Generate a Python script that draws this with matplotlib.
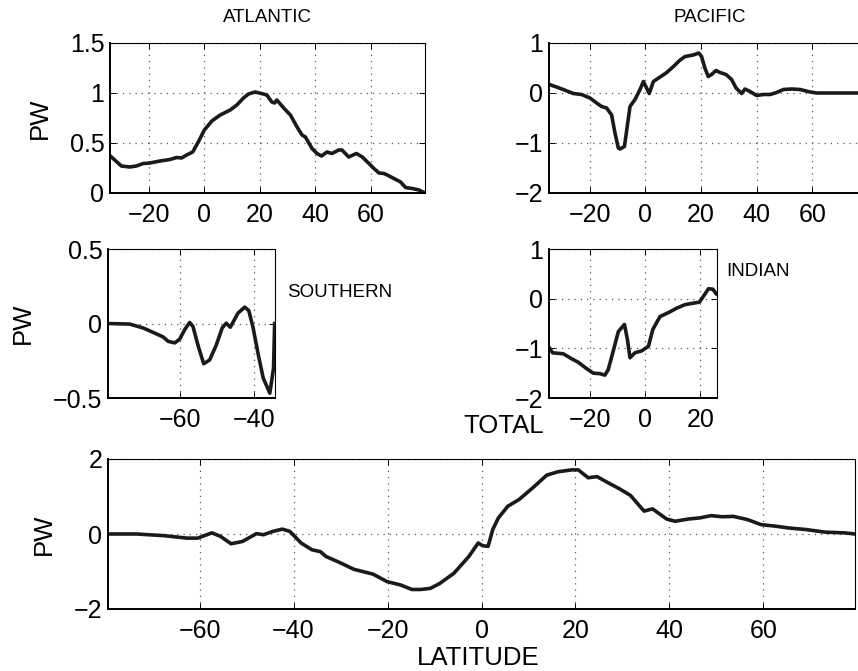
import numpy as np
import matplotlib
matplotlib.use('Agg')
import matplotlib.pyplot as plt

plt.rcParams['font.family'] = ['Liberation Sans', 'DejaVu Sans']

# heat transport (PW) against latitude
atl_lat = [-34.2, -32.3, -29.9, -26.9, -24.5, -22, -19.6, -16, -12.4, -10, -8.2,
           -6.4, -4.2, -2.2, 0, 2.7, 5.7, 9.3, 11.7, 14.1, 15.9, 18.3, 21.3, 22.5,
           24.3, 25.3, 26.1, 28.6, 31, 33.4, 35.2, 36.4, 38.8, 40.6, 42.2, 44.2,
           46, 48.4, 49.6, 52, 54.8, 56.9, 59.3, 61.1, 62.9, 64.7, 65.9, 68.3,
           70.7, 72.5, 74.9, 77.3, 79.5]
atl_pw = [0.378, 0.33, 0.27, 0.26, 0.27, 0.295, 0.30, 0.32, 0.335, 0.355, 0.35,
          0.38, 0.41, 0.51, 0.63, 0.72, 0.78, 0.83, 0.88, 0.95, 0.99, 1.01, 0.99,
          0.98, 0.91, 0.90, 0.93, 0.85, 0.78, 0.66, 0.58, 0.56, 0.445, 0.395,
          0.37, 0.41, 0.395, 0.43, 0.43, 0.36, 0.395, 0.36, 0.295, 0.245, 0.20,
          0.195, 0.18, 0.145, 0.11, 0.055, 0.045, 0.03, 0.0]

pac_lat = [-34.5, -31.9, -29.5, -25.9, -22.9, -19.9, -17.5, -15.7, -13.9, -12.1,
           -10.9, -9.7, -9.1, -7.5, -6.5, -5.5, -3.7, -1.9, -0.7, 0.2, 1.4, 2.9,
           5.3, 7.7, 10.1, 12.5, 14.3, 17.2, 19.2, 20.2, 21.4, 22.6, 23.8, 25.4,
           26.8, 29.0, 31.0, 32.6, 34.6, 35.8, 37.6, 40, 42.4, 44.8, 47.2, 49.6,
           52.6, 55.6, 59.2, 61.6, 66.3, 75.9, 79.5]
pac_pw = [0.17, 0.12, 0.07, -0.01, -0.03, -0.10, -0.20, -0.27, -0.30, -0.44,
          -0.80, -1.10, -1.12, -1.07, -0.67, -0.27, -0.13, 0.07, 0.23, 0.13,
          -0.01, 0.23, 0.32, 0.41, 0.53, 0.66, 0.73, 0.76, 0.80, 0.73, 0.50,
          0.33, 0.37, 0.45, 0.41, 0.37, 0.27, 0.10, -0.01, 0.08, 0.03, -0.05,
          -0.03, -0.03, 0.01, 0.07, 0.08, 0.07, 0.02, 0.0, 0.0, 0.0, 0.0]

sou_lat = [-79.5, -73.6, -70, -66.8, -64.6, -63.2, -61.4, -60.1, -58.7, -57.4,
           -56.5, -55.1, -53.6, -52.0, -50.2, -48.6, -47.5, -46.4, -44.3, -42.5,
           -41.4, -40.3, -38.9, -37.5, -35.7, -34.7, -34.4]
sou_pw = [0.0, -0.004, -0.03, -0.065, -0.09, -0.12, -0.13, -0.105, -0.04, 0.007,
          -0.02, -0.15, -0.27, -0.245, -0.145, -0.03, 0.002, -0.025, 0.07, 0.11,
          0.087, -0.02, -0.2, -0.365, -0.468, -0.3, 0.0]

ind_lat = [-34.9, -33.7, -29.8, -26.8, -24.4, -21.3, -18.9, -16.5, -14.7, -13.5,
           -11.9, -9.8, -7.6, -6.5, -5.6, -3.8, -1.3, 1.1, 2.7, 5.3, 8.4, 11.4,
           14.4, 17.5, 19.6, 21.1, 22.9, 24.5, 25.7]
ind_pw = [-0.985, -1.09, -1.11, -1.21, -1.28, -1.41, -1.50, -1.51, -1.54, -1.43,
          -1.10, -0.66, -0.52, -0.83, -1.19, -1.09, -1.05, -0.96, -0.62, -0.36,
          -0.28, -0.19, -0.12, -0.09, -0.07, 0.05, 0.20, 0.19, 0.10]

tot_lat = [-79.5, -73.4, -67.5, -62.7, -60.4, -57.4, -55.6, -53.3, -50.9, -47.9,
           -46.4, -44.4, -42.4, -40.8, -38.4, -36.1, -34.3, -33.1, -30.2, -27.2,
           -23.1, -20.1, -17.2, -14.8, -13.0, -10.9, -8.9, -5.9, -2.7, -0.7, 0.2,
           1.4, 2.4, 3.6, 5.6, 8.0, 10.9, 13.9, 16.3, 19.2, 20.6, 22.7, 24.6,
           26.9, 29.3, 31.7, 34.6, 36.4, 39.4, 41.2, 44.1, 46.5, 48.9, 51.2, 53.6,
           56.6, 59.5, 62.5, 65.4, 69.0, 73.1, 77.3, 79.5]
tot_pw = [0.0, 0.0, -0.045, -0.11, -0.11, 0.03, -0.06, -0.26, -0.20, 0.01, -0.02,
          0.07, 0.13, 0.07, -0.24, -0.42, -0.47, -0.60, -0.76, -0.94, -1.07,
          -1.27, -1.36, -1.48, -1.48, -1.45, -1.32, -1.05, -0.60, -0.24, -0.31,
          -0.33, 0.12, 0.43, 0.74, 0.92, 1.23, 1.57, 1.66, 1.71, 1.71, 1.50, 1.53,
          1.37, 1.21, 1.03, 0.61, 0.67, 0.40, 0.34, 0.40, 0.43, 0.49, 0.46, 0.47,
          0.385, 0.25, 0.21, 0.16, 0.12, 0.05, 0.03, 0.0]

W, H = 858, 671
fig = plt.figure(figsize=(W / 100, H / 100), dpi=100)


def box(l, t, r, b):
    # pixel box -> figure fraction
    return [l / W, 1 - b / H, (r - l) / W, (b - t) / H]


def panel(rect, lat, pw, xlim, ylim, xticks, yticks, yfmt=None):
    ax = fig.add_axes(rect)
    ax.plot(lat, pw, color='#1a1a1a', lw=2.6, solid_joinstyle='round',
            clip_on=True)
    ax.set_xlim(*xlim)
    ax.set_ylim(*ylim)
    ax.set_xticks(xticks)
    ax.set_yticks(yticks)
    if yfmt:
        ax.set_yticklabels(yfmt)
    ax.grid(True, linestyle=(0, (1, 4)), color='0.35', lw=0.9)
    ax.tick_params(direction='in', top=True, right=True, length=4, width=0.7,
                   labelsize=18)
    ax.tick_params(axis='x', pad=7)
    ax.tick_params(axis='y', pad=4)
    for s in ['left', 'bottom']:
        ax.spines[s].set_linewidth(1.4)
    for s in ['top', 'right']:
        ax.spines[s].set_linewidth(0.8)
    return ax


panel(box(110, 43, 425, 193), atl_lat, atl_pw, (-34, 79.5), (0, 1.5),
      [-20, 0, 20, 40, 60], [0, 0.5, 1, 1.5], ['0', '0.5', '1', '1.5'])
panel(box(549, 43, 868, 193), pac_lat, pac_pw, (-34.6, 80), (-2, 1),
      [-20, 0, 20, 40, 60], [-2, -1, 0, 1])
panel(box(108, 249, 275, 398), sou_lat, sou_pw, (-79.5, -34.3), (-0.5, 0.5),
      [-60, -40], [-0.5, 0, 0.5], ['\u22120.5', '0', '0.5'])
panel(box(549, 249, 717, 398), ind_lat, ind_pw, (-35, 26), (-2, 1),
      [-20, 0, 20], [-2, -1, 0, 1])
panel(box(108, 459, 855, 609), tot_lat, tot_pw, (-79.5, 79.5), (-2, 2),
      [-60, -40, -20, 0, 20, 40, 60], [-2, 0, 2])

fig.text(267 / W, 1 - 17 / H, 'ATLANTIC', ha='center', va='center', fontsize=13.5)
fig.text(710 / W, 1 - 17 / H, 'PACIFIC', ha='center', va='center', fontsize=13.5)
fig.text(287 / W, 1 - 293 / H, 'SOUTHERN', ha='left', va='center', fontsize=13.5)
fig.text(726 / W, 1 - 272 / H, 'INDIAN', ha='left', va='center', fontsize=13.5)
fig.text(504 / W, 1 - 426 / H, 'TOTAL', ha='center', va='center', fontsize=18.5)
fig.text(478 / W, 1 - 658 / H, 'LATITUDE', ha='center', va='center', fontsize=18.5)
for x, y in [(40, 118), (23, 323), (44, 534)]:
    fig.text(x / W, 1 - y / H, 'PW', ha='center', va='center', rotation=90,
             fontsize=18.5)

fig.savefig('out.png', dpi=100)
